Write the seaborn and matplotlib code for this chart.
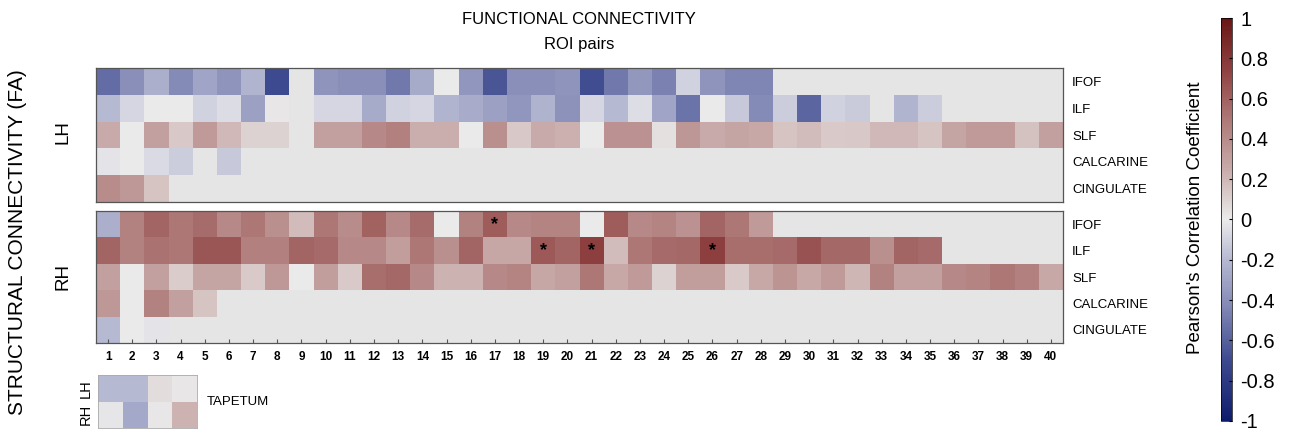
import numpy as np
import pandas as pd
import matplotlib
matplotlib.use('Agg')
import matplotlib.pyplot as plt
from matplotlib.colors import LinearSegmentedColormap
import seaborn as sns

nan = np.nan

tracts = ['IFOF', 'ILF', 'SLF', 'CALCARINE', 'CINGULATE']
roi_pairs = [str(i) for i in range(1, 41)]

# left hemisphere, one list per tract, 40 ROI pairs
lh_ifof = [-0.55, -0.40, -0.25, -0.42, -0.30, -0.38, -0.22, -0.70, nan, -0.38,
           -0.40, -0.40, -0.50, -0.27, 0.00, -0.37, -0.65, -0.40, -0.40, -0.38,
           -0.68, -0.50, -0.36, -0.46, -0.10, -0.38, -0.44, -0.44, nan, nan,
           nan, nan, nan, nan, nan, nan, nan, nan, nan, nan]
lh_ilf = [-0.20, -0.08, 0.00, 0.00, -0.10, -0.06, -0.32, 0.02, nan, -0.08,
          -0.08, -0.27, -0.10, -0.08, -0.22, -0.26, -0.32, -0.37, -0.23, -0.39,
          -0.08, -0.20, -0.05, -0.30, -0.52, 0.00, -0.14, -0.42, -0.12, -0.58,
          -0.10, -0.13, nan, -0.22, -0.12, nan, nan, nan, nan, nan]
lh_slf = [0.25, 0.00, 0.30, 0.14, 0.33, 0.20, 0.10, 0.10, nan, 0.30,
          0.30, 0.42, 0.46, 0.24, 0.24, 0.00, 0.38, 0.14, 0.25, 0.23,
          0.00, 0.37, 0.37, 0.04, 0.35, 0.25, 0.28, 0.26, 0.15, 0.18,
          0.13, 0.14, 0.20, 0.20, 0.15, 0.28, 0.33, 0.33, 0.16, 0.30]
lh_calcarine = [-0.03, 0.00, -0.07, -0.12, nan, -0.14, nan, nan, nan, nan,
                nan, nan, nan, nan, nan, nan, nan, nan, nan, nan,
                nan, nan, nan, nan, nan, nan, nan, nan, nan, nan,
                nan, nan, nan, nan, nan, nan, nan, nan, nan, nan]
lh_cingulate = [0.40, 0.34, 0.15, nan, nan, nan, nan, nan, nan, nan,
                nan, nan, nan, nan, nan, nan, nan, nan, nan, nan,
                nan, nan, nan, nan, nan, nan, nan, nan, nan, nan,
                nan, nan, nan, nan, nan, nan, nan, nan, nan, nan]

# right hemisphere
rh_ifof = [-0.25, 0.45, 0.58, 0.50, 0.55, 0.42, 0.50, 0.38, 0.18, 0.50,
           0.40, 0.60, 0.42, 0.55, 0.00, 0.45, 0.62, 0.42, 0.44, 0.44,
           0.00, 0.62, 0.42, 0.44, 0.37, 0.58, 0.50, 0.33, nan, nan,
           nan, nan, nan, nan, nan, nan, nan, nan, nan, nan]
rh_ilf = [0.58, 0.45, 0.52, 0.50, 0.65, 0.65, 0.46, 0.46, 0.58, 0.56,
          0.42, 0.42, 0.32, 0.50, 0.38, 0.58, 0.27, 0.27, 0.64, 0.58,
          0.75, 0.18, 0.50, 0.56, 0.57, 0.75, 0.54, 0.54, 0.56, 0.67,
          0.57, 0.57, 0.38, 0.58, 0.56, nan, nan, nan, nan, nan]
rh_slf = [0.30, 0.00, 0.30, 0.12, 0.28, 0.28, 0.13, 0.34, 0.00, 0.32,
          0.13, 0.54, 0.57, 0.42, 0.22, 0.22, 0.42, 0.44, 0.27, 0.30,
          0.50, 0.26, 0.33, 0.10, 0.32, 0.32, 0.13, 0.26, 0.36, 0.26,
          0.33, 0.21, 0.45, 0.30, 0.30, 0.42, 0.44, 0.50, 0.46, 0.26]
rh_calcarine = [0.34, 0.00, 0.45, 0.30, 0.15, nan, nan, nan, nan, nan,
                nan, nan, nan, nan, nan, nan, nan, nan, nan, nan,
                nan, nan, nan, nan, nan, nan, nan, nan, nan, nan,
                nan, nan, nan, nan, nan, nan, nan, nan, nan, nan]
rh_cingulate = [-0.20, 0.00, -0.03, nan, nan, nan, nan, nan, nan, nan,
                nan, nan, nan, nan, nan, nan, nan, nan, nan, nan,
                nan, nan, nan, nan, nan, nan, nan, nan, nan, nan,
                nan, nan, nan, nan, nan, nan, nan, nan, nan, nan]

# significant cells in RH (tract, ROI pair)
rh_significant = [('IFOF', '17'), ('ILF', '19'), ('ILF', '21'), ('ILF', '26')]

tapetum_hemi = ['LH', 'RH']
tapetum_lh = [-0.20, -0.20, 0.06, 0.02]
tapetum_rh = [-0.02, -0.28, 0.02, 0.22]

lh = pd.DataFrame([lh_ifof, lh_ilf, lh_slf, lh_calcarine, lh_cingulate],
                  index=tracts, columns=roi_pairs)
rh = pd.DataFrame([rh_ifof, rh_ilf, rh_slf, rh_calcarine, rh_cingulate],
                  index=tracts, columns=roi_pairs)
tap = pd.DataFrame([tapetum_lh, tapetum_rh], index=tapetum_hemi)

stars = pd.DataFrame('', index=tracts, columns=roi_pairs)
for tr, roi in rh_significant:
    stars.loc[tr, roi] = '*'

# muted blue - grey - red scale
cmap = LinearSegmentedColormap.from_list('fc', [
    (0.00, '#0e1c6c'), (0.15, '#3e4a8f'), (0.30, '#8a90ba'),
    (0.40, '#b6b9d2'), (0.50, '#ebebeb'), (0.625, '#c8abaa'),
    (0.75, '#ad7876'), (0.875, '#8e4040'), (1.00, '#6a1616')])

plt.rcParams['font.family'] = ['Liberation Sans', 'DejaVu Sans']

W, H = 1293, 433
fig = plt.figure(figsize=(W / 100, H / 100), dpi=100)

def px(x0, y0, x1, y1):
    return [x0 / W, 1 - y1 / H, (x1 - x0) / W, (y1 - y0) / H]

ax_lh = fig.add_axes(px(96, 68, 1063, 202))
ax_rh = fig.add_axes(px(96, 211, 1063, 343))
ax_tap = fig.add_axes(px(98, 375, 197, 428))
cax = fig.add_axes(px(1221, 18, 1232, 421))

bg = '#e5e5e5'
for ax in (ax_lh, ax_rh, ax_tap):
    ax.set_facecolor(bg)

sns.heatmap(lh, ax=ax_lh, cmap=cmap, vmin=-1, vmax=1, cbar=False)
sns.heatmap(rh, ax=ax_rh, cmap=cmap, vmin=-1, vmax=1, cbar=True, cbar_ax=cax,
            annot=stars, fmt='',
            annot_kws={'color': 'black', 'fontsize': 13, 'fontweight': 'bold'})
sns.heatmap(tap, ax=ax_tap, cmap=cmap, vmin=-1, vmax=1, cbar=False)

for ax in (ax_lh, ax_rh):
    ax.yaxis.tick_right()
    ax.set_yticklabels(tracts, rotation=0, fontsize=9.5)
    ax.tick_params(axis='y', length=0, pad=6.5)
    ax.set_xlabel('')
    ax.set_ylabel('')
    for s in ax.spines.values():
        s.set_visible(True)
        s.set_color('#555555')
        s.set_linewidth(0.9)

ax_lh.set_xticks([])
ax_rh.set_xticklabels(roi_pairs, rotation=0, fontsize=8.5, fontweight='bold')
ax_rh.tick_params(axis='x', direction='in', length=3, pad=6, color='#555555')

ax_tap.set_xticks([])
ax_tap.set_yticklabels(tapetum_hemi, rotation=90, va='center', fontsize=10.5)
ax_tap.tick_params(axis='y', length=0, pad=4)
for s in ax_tap.spines.values():
    s.set_visible(True)
    s.set_color('#aaaaaa')
    s.set_linewidth(0.6)

cbar = ax_rh.collections[0].colorbar
cbar.set_ticks(np.round(np.arange(-1, 1.01, 0.2), 1))
cbar.set_ticklabels(['-1', '-0.8', '-0.6', '-0.4', '-0.2', '0',
                     '0.2', '0.4', '0.6', '0.8', '1'])
cbar.ax.tick_params(labelsize=14.5, length=2, direction='in', pad=6)
cbar.outline.set_linewidth(0.5)

fig.text(579 / W, 1 - 20 / H, 'FUNCTIONAL CONNECTIVITY', ha='center', va='center',
         fontsize=12)
fig.text(579 / W, 1 - 45 / H, 'ROI pairs', ha='center', va='center', fontsize=12)
fig.text(18 / W, 1 - 242 / H, 'STRUCTURAL CONNECTIVITY (FA)', ha='center', va='center',
         rotation=90, fontsize=15)
fig.text(63 / W, 1 - 132 / H, 'LH', ha='center', va='center', rotation=90, fontsize=13.5)
fig.text(63 / W, 1 - 277 / H, 'RH', ha='center', va='center', rotation=90, fontsize=13.5)
fig.text(207 / W, 1 - 402 / H, 'TAPETUM', ha='left', va='center', fontsize=9.5)
fig.text(1195 / W, 1 - 218 / H, "Pearson's Correlation Coefficient", ha='center',
         va='center', rotation=90, fontsize=13.5)

fig.savefig('out.png', dpi=100)
